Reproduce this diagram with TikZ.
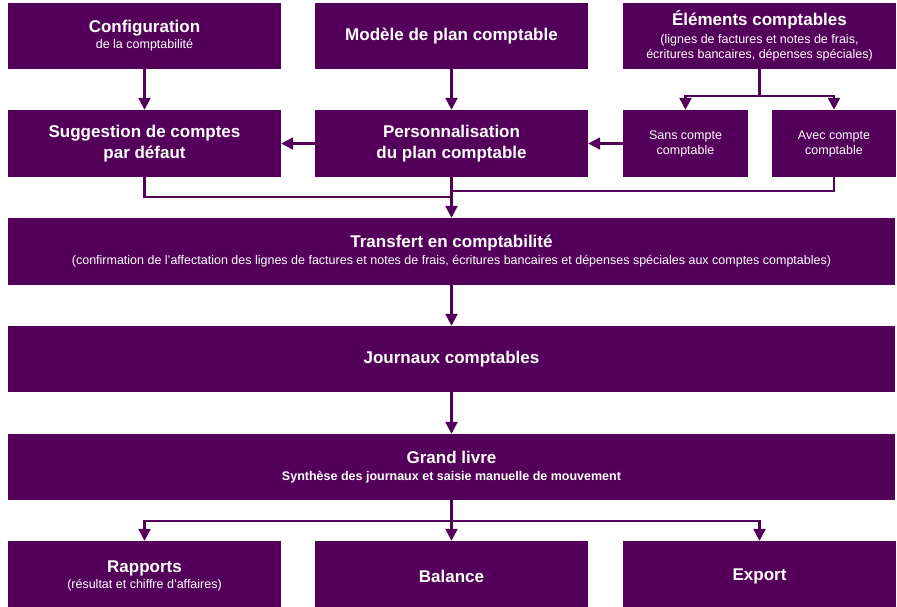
\documentclass[tikz,border=0pt]{standalone}
\usepackage{fontspec}
\setmainfont{Liberation Sans}
\usetikzlibrary{arrows.meta}
\definecolor{prune}{RGB}{84,0,90}
\newcommand{\titre}[1]{{\fontsize{17}{20}\selectfont\bfseries #1}}

\begin{document}
\begin{tikzpicture}[x=1pt, y=-1pt,
      every node/.style = {shape=rectangle, fill=prune, text=white,
        align=center, inner sep=2pt, font=\fontsize{12.5}{15}\selectfont},
      box/.style = {minimum width=273pt, minimum height=66pt},
      wide/.style = {minimum width=887pt, minimum height=66pt},
      big/.style = {font=\fontsize{17}{21}\selectfont\bfseries},
      small/.style = {minimum width=125pt, minimum height=67pt},
      arr/.style = {draw=prune, line width=2.4pt,
        -{Triangle[width=12pt,length=12pt]}},
      line/.style = {draw=prune, line width=2.4pt}]
  \useasboundingbox (0,0) rectangle (897,606);
  % top row
  \node[box] (config) at (144.5,36) {\titre{Configuration}\\[1pt]de la comptabilité};
  \node[box] (modele) at (451.5,36) {\titre{Modèle de plan comptable}};
  \node[box] (elements) at (759.5,36) {\titre{Éléments comptables}\\[3pt]
    (lignes de factures et notes de frais,\\écritures bancaires, dépenses spéciales)};
  % second row
  \node[box, big, minimum height=67pt] (suggestion) at (144.5,143.5)
    {Suggestion de comptes\\par défaut};
  \node[box, big, minimum height=67pt] (perso) at (451.5,143.5)
    {Personnalisation\\du plan comptable};
  \node[small] (sans) at (685.5,143.5) {Sans compte\\comptable};
  \node[small, minimum width=124pt] (avec) at (834,143.5) {Avec compte\\comptable};
  % middle
  \node[wide, minimum height=67pt] (transfert) at (451.5,251.5) {\titre{Transfert en comptabilité}\\[2pt]
    (confirmation de l'affectation des lignes de factures et notes de frais, écritures bancaires et dépenses spéciales aux comptes comptables)};
  \node[wide] (journaux) at (451.5,359) {\titre{Journaux comptables}};
  \node[wide] (grandlivre) at (451.5,467) {\titre{Grand livre}\\[2pt]
    \bfseries Synthèse des journaux et saisie manuelle de mouvement};
  % bottom row
  \node[box, minimum height=70pt] (rapports) at (144.5,576)
    {\titre{Rapports}\\[1pt](résultat et chiffre d'affaires)};
  \node[box, minimum height=70pt] (balance) at (451.5,576) {\titre{Balance}};
  \node[box, minimum height=70pt] (export) at (759.5,576) {\titre{Export}};

  \coordinate (split) at (759.5,96);
  \coordinate (joinA) at (451.5,197);
  \coordinate (joinB) at (451.5,191);
  \coordinate (fork) at (451.5,521);

  \draw[arr] (config) -- (suggestion);
  \draw[arr] (modele) -- (perso);
  \draw[arr] (elements) -- (split) -| (sans);
  \draw[arr] (split) -| (avec);
  \draw[arr] (sans) -- (perso);
  \draw[arr] (perso) -- (suggestion);
  \draw[line] (suggestion) |- (joinA);
  \draw[line] (avec) |- (joinB);
  \draw[arr] (perso) -- (transfert);
  \draw[arr] (transfert) -- (journaux);
  \draw[arr] (journaux) -- (grandlivre);
  \draw[arr] (grandlivre) -- (balance);
  \draw[arr] (fork) -| (rapports);
  \draw[arr] (fork) -| (export);
\end{tikzpicture}
\end{document}
